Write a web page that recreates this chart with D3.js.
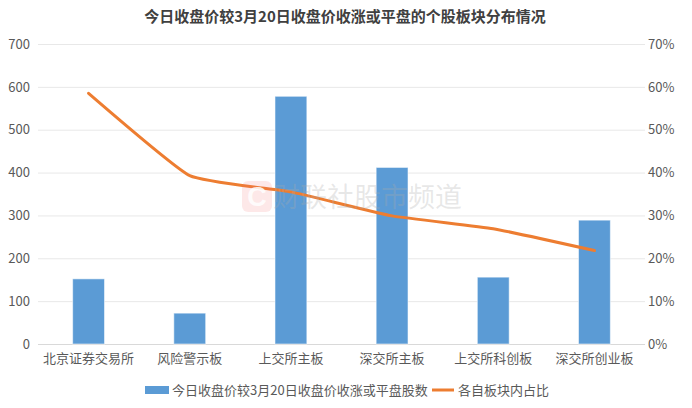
<!DOCTYPE html>
<html>
<head>
<meta charset="utf-8">
<script src="https://cdn.jsdelivr.net/npm/d3@7"></script>
<style>
  html, body { margin: 0; padding: 0; background: #fff; }
  svg { display: block; font-family: "Noto Sans CJK SC", "Microsoft YaHei", sans-serif; }
</style>
</head>
<body>
<svg id="chart" width="692" height="408"></svg>
<script>
// Board categories
const categories = ["北京证券交易所", "风险警示板", "上交所主板", "深交所主板", "上交所科创板", "深交所创业板"];
// Number of stocks closing up or flat vs. the Mar 20 close
const upCounts = [152, 72, 578, 412, 156, 289];
// Share of each board
const shares = [0.585, 0.393, 0.355, 0.299, 0.269, 0.218];
// Axis ticks
const leftTicks = [0, 100, 200, 300, 400, 500, 600, 700];
const rightTicks = [0, 0.1, 0.2, 0.3, 0.4, 0.5, 0.6, 0.7];

const titleText = "今日收盘价较3月20日收盘价收涨或平盘的个股板块分布情况";
const barSeriesName = "今日收盘价较3月20日收盘价收涨或平盘股数";
const lineSeriesName = "各自板块内占比";

const svg = d3.select("#chart");
const plot = { left: 38, right: 645, top: 44, bottom: 344 };
const textColor = "#595959";

const x = d3.scaleBand().domain(categories).range([plot.left, plot.right]).padding(0);
const yL = d3.scaleLinear().domain([0, 700]).range([plot.bottom, plot.top]);
const yR = d3.scaleLinear().domain([0, 0.7]).range([plot.bottom, plot.top]);

// Title
svg.append("text")
  .attr("x", 345).attr("y", 22)
  .attr("text-anchor", "middle")
  .attr("font-size", 15).attr("font-weight", "bold")
  .attr("fill", "#404040")
  .text(titleText);

// Gridlines
svg.append("g").selectAll("line").data(leftTicks).join("line")
  .attr("x1", plot.left).attr("x2", plot.right)
  .attr("y1", d => yL(d) + 0.5).attr("y2", d => yL(d) + 0.5)
  .attr("stroke", d => d === 0 ? "#D9D9D9" : "#E8E8E8").attr("stroke-width", 1);

// Left axis
const leftAxis = svg.append("g")
  .attr("transform", `translate(${plot.left - 8},0)`)
  .call(d3.axisLeft(yL).tickValues(leftTicks).tickSize(0).tickPadding(0).tickFormat(d3.format("d")));
leftAxis.select(".domain").remove();
leftAxis.selectAll("text").attr("font-size", 13).attr("fill", textColor)
  .attr("font-family", "'Noto Sans CJK SC', sans-serif");

// Right axis
const rightAxis = svg.append("g")
  .attr("transform", `translate(${plot.right + 3},0)`)
  .call(d3.axisRight(yR).tickValues(rightTicks).tickSize(0).tickPadding(0).tickFormat(d3.format(".0%")));
rightAxis.select(".domain").remove();
rightAxis.selectAll("text").attr("font-size", 13).attr("fill", textColor)
  .attr("font-family", "'Noto Sans CJK SC', sans-serif");

// Category labels
const bottomAxis = svg.append("g")
  .attr("transform", `translate(0,${plot.bottom + 10})`)
  .call(d3.axisBottom(x).tickSize(0).tickPadding(0));
bottomAxis.select(".domain").remove();
bottomAxis.selectAll("text").attr("font-size", 13).attr("fill", textColor)
  .attr("font-family", "'Noto Sans CJK SC', sans-serif");

// Bars
const barW = x.bandwidth() * 0.315;
svg.append("g").selectAll("rect").data(categories).join("rect")
  .attr("x", (d) => x(d) + (x.bandwidth() - barW) / 2)
  .attr("y", (d, i) => yL(upCounts[i]))
  .attr("width", barW)
  .attr("height", (d, i) => yL(0) - yL(upCounts[i]))
  .attr("fill", "#5B9BD5")
  .attr("stroke", "rgba(255,255,255,0.55)").attr("stroke-width", 1);

// Share line (lightly smoothed)
const line = d3.line()
  .x((d, i) => x(categories[i]) + x.bandwidth() / 2)
  .y(d => yR(d))
  .curve(d3.curveCardinal.tension(0.6));
svg.append("path").datum(shares)
  .attr("d", line)
  .attr("fill", "none")
  .attr("stroke", "#ED7D31").attr("stroke-width", 3)
  .attr("stroke-linecap", "round").attr("stroke-linejoin", "round");

// Watermark
const wm = svg.append("g");
wm.append("rect").attr("x", 242).attr("y", 181).attr("width", 30).attr("height", 31).attr("rx", 6)
  .attr("fill", "rgba(240,110,110,0.16)");
wm.append("text").attr("x", 257).attr("y", 206).attr("text-anchor", "middle")
  .attr("font-size", 27).attr("font-weight", "bold").attr("fill", "rgba(255,255,255,0.85)")
  .attr("font-family", "Arial, 'Liberation Sans', sans-serif")
  .text("C");
wm.append("text").attr("x", 273).attr("y", 207)
  .attr("font-size", 27).attr("fill", "rgba(170,170,170,0.28)")
  .text("财联社股市频道");

// Legend
const legend = svg.append("g");
legend.append("rect").attr("x", 145).attr("y", 386).attr("width", 24).attr("height", 8).attr("fill", "#5B9BD5");
legend.append("text").attr("x", 172).attr("y", 395).attr("font-size", 13).attr("fill", textColor).text(barSeriesName);
legend.append("line").attr("x1", 432).attr("x2", 454).attr("y1", 390).attr("y2", 390)
  .attr("stroke", "#ED7D31").attr("stroke-width", 3);
legend.append("text").attr("x", 458).attr("y", 395).attr("font-size", 13).attr("fill", textColor).text(lineSeriesName);
</script>
</body>
</html>
